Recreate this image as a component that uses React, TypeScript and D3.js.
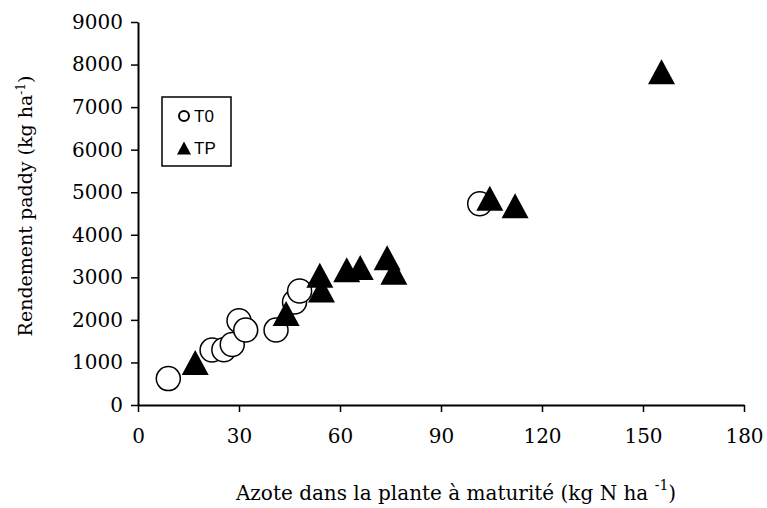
import React, { useEffect, useRef } from "react";
import * as d3 from "d3";

// T0 (open circles)
const t0X = [9, 22, 25.5, 28, 30, 32, 41, 46.5, 48, 101.5];
const t0Y = [620, 1290, 1300, 1420, 1980, 1760, 1760, 2420, 2680, 4730];

// TP (filled triangles)
const tpX = [17, 44, 54, 54.5, 62, 66, 74, 76, 104.5, 112, 155.5];
const tpY = [1000, 2150, 3050, 2700, 3180, 3230, 3460, 3120, 4860, 4680, 7830];

const xTicks = [0, 30, 60, 90, 120, 150, 180];
const yTicks = [0, 1000, 2000, 3000, 4000, 5000, 6000, 7000, 8000, 9000];

const SERIF = "'DejaVu Serif', serif";
const SANS = "'Liberation Sans', Arial, sans-serif";

const App = () => {
  const svgRef = useRef<SVGSVGElement>(null);
  const width = 767;
  const height = 508;

  useEffect(() => {
    const margin = { top: 22, right: 23, bottom: 103, left: 138 };
    const svg = d3.select(svgRef.current);
    svg.selectAll("*").remove();

    const innerWidth = width - margin.left - margin.right;
    const innerHeight = height - margin.top - margin.bottom;

    const x = d3.scaleLinear().domain([0, 180]).range([0, innerWidth]);
    const y = d3.scaleLinear().domain([0, 9000]).range([innerHeight, 0]);

    const g = svg
      .append("g")
      .attr("transform", `translate(${margin.left},${margin.top})`);

    // x axis
    const xAxis = g
      .append("g")
      .attr("transform", `translate(0,${innerHeight})`)
      .call(d3.axisBottom(x).tickValues(xTicks).tickSizeInner(7).tickSizeOuter(0).tickPadding(17));
    xAxis.attr("font-family", SERIF).attr("font-size", 20);
    xAxis.select("path").attr("stroke", "#000").attr("stroke-width", 2);
    xAxis.selectAll("line").attr("stroke", "#000").attr("stroke-width", 1.5);
    xAxis.selectAll("text").attr("fill", "#000");

    // y axis
    const yAxis = g
      .append("g")
      .call(d3.axisLeft(y).tickValues(yTicks).tickSizeInner(7).tickSizeOuter(0).tickPadding(8).tickFormat(d3.format("d")));
    yAxis.attr("font-family", SERIF).attr("font-size", 20);
    yAxis.select("path").attr("stroke", "#000").attr("stroke-width", 2);
    yAxis.selectAll("line").attr("stroke", "#000").attr("stroke-width", 1.5);
    yAxis.selectAll("text").attr("fill", "#000");

    // triangle path, box-centred
    const tri = (w: number, h: number) =>
      `M0,${-h / 2}L${w / 2},${h / 2}L${-w / 2},${h / 2}Z`;

    // T0 circles
    g.selectAll(".t0")
      .data(t0X.map((v, i) => [v, t0Y[i]]))
      .enter()
      .append("circle")
      .attr("class", "t0")
      .attr("cx", (d) => x(d[0]))
      .attr("cy", (d) => y(d[1]))
      .attr("r", 12)
      .attr("fill", "#fff")
      .attr("stroke", "#000")
      .attr("stroke-width", 1.5);

    // TP triangles
    g.selectAll(".tp")
      .data(tpX.map((v, i) => [v, tpY[i]]))
      .enter()
      .append("path")
      .attr("class", "tp")
      .attr("d", tri(27, 25))
      .attr("transform", (d) => `translate(${x(d[0])},${y(d[1])})`)
      .attr("fill", "#000");

    // legend
    const lg = svg.append("g");
    lg.append("rect")
      .attr("x", 162)
      .attr("y", 97)
      .attr("width", 69)
      .attr("height", 69)
      .attr("fill", "#fff")
      .attr("stroke", "#000")
      .attr("stroke-width", 1.5);
    lg.append("circle")
      .attr("cx", 184)
      .attr("cy", 116)
      .attr("r", 5)
      .attr("fill", "#fff")
      .attr("stroke", "#000")
      .attr("stroke-width", 2);
    lg.append("path")
      .attr("d", tri(14, 13))
      .attr("transform", "translate(184,148)")
      .attr("fill", "#000");
    lg.append("text").attr("x", 194).attr("y", 122).text("T0")
      .attr("font-family", SANS).attr("font-size", 17);
    lg.append("text").attr("x", 194).attr("y", 154).text("TP")
      .attr("font-family", SANS).attr("font-size", 17);

    // axis titles
    const xt = svg
      .append("text")
      .attr("x", 456)
      .attr("y", 500)
      .attr("text-anchor", "middle")
      .attr("font-family", SERIF)
      .attr("font-size", 20);
    xt.append("tspan").text("Azote dans la plante à maturité (kg N ha ");
    xt.append("tspan").attr("dy", -10).attr("font-size", 14).text("-1");
    xt.append("tspan").attr("dy", 10).text(")");

    const yt = svg
      .append("text")
      .attr("transform", "translate(32,206) rotate(-90)")
      .attr("text-anchor", "middle")
      .attr("font-family", SERIF)
      .attr("font-size", 19);
    yt.append("tspan").text("Rendement paddy (kg ha");
    yt.append("tspan").attr("dy", -7).attr("font-size", 12).text("-1");
    yt.append("tspan").attr("dy", 7).text(")");
  }, []);

  return (
    <svg
      ref={svgRef}
      width={width}
      height={height}
      style={{ position: "absolute", left: 0, top: 0, background: "#fff" }}
    />
  );
};

export default App;
